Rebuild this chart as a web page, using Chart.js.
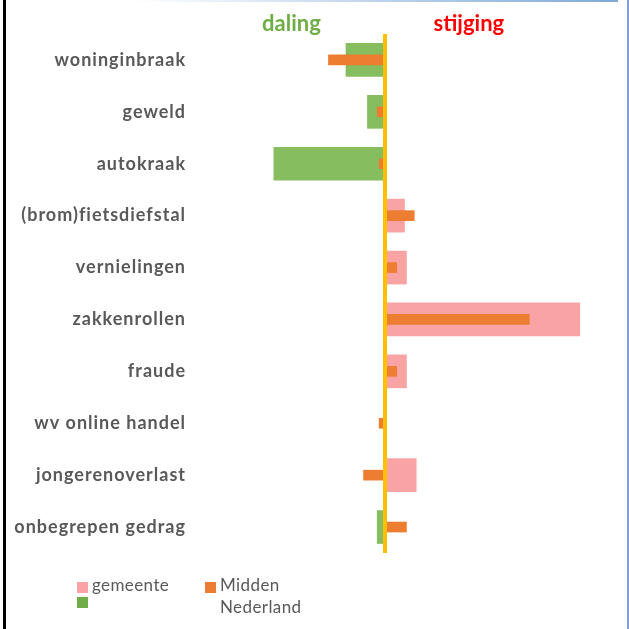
<!DOCTYPE html>
<html>
<head>
<meta charset="utf-8">
<script src="https://cdn.jsdelivr.net/npm/chart.js@4"></script>
<style>
  html, body { margin: 0; padding: 0; background: #fff; }
  #wrap { position: relative; width: 629px; height: 629px; overflow: hidden; }
  #frame-left { position: absolute; left: 3px; top: 0; width: 3px; height: 629px; background: #000; }
  #frame-right { position: absolute; left: 627px; top: 0; width: 2px; height: 629px; background: #7ea3cf; }
  #frame-top { position: absolute; left: 130px; top: 0; width: 488px; height: 2px;
               background: linear-gradient(to right, #ffffff, #7ea9d8); }
  canvas { position: absolute; left: 0; top: 0; }
  .legend { position: absolute; font-family: Lato, "Open Sans", sans-serif; font-size: 17px;
            letter-spacing: 0.4px; color: #595959; line-height: 22px; }
  .sw { position: absolute; width: 11px; height: 11px; }
</style>
</head>
<body>
<div id="wrap">
  <canvas id="chart" width="629" height="629"></canvas>
  <div id="frame-left"></div>
  <div id="frame-right"></div>
  <div id="frame-top"></div>
  <div id="legend"></div>
</div>
<script>
const categories = [
  "woninginbraak", "geweld", "autokraak", "(brom)fietsdiefstal", "vernielingen",
  "zakkenrollen", "fraude", "wv online handel", "jongerenoverlast", "onbegrepen gedrag"
];
// change in %, gemeente (positive = stijging, negative = daling)
const gemeente = [-20, -9, -57, 10, 11, 100, 11, 0, 16, -4];
const middenNederland = [-29, -4, -3, 15, 6, 74, 6, -3, -11, 11];

const headers = [
  { text: "daling", value: -48, color: "#70AD47" },
  { text: "stijging", value: 43, color: "#FF0000" }
];

const pink = "#F9A3A4";
const green = "#86BD5E";
const orange = "#ED7D31";

const gemeenteUp = gemeente.map(v => v > 0 ? v : null);
const gemeenteDown = gemeente.map(v => v < 0 ? v : null);

const zeroLine = {
  id: "zeroLine",
  afterDatasetsDraw(chart) {
    const { ctx, chartArea, scales } = chart;
    const x = scales.x.getPixelForValue(0);
    ctx.save();
    ctx.strokeStyle = "#FFC000";
    ctx.lineWidth = 4;
    ctx.beginPath();
    ctx.moveTo(x, chartArea.top);
    ctx.lineTo(x, chartArea.bottom);
    ctx.stroke();
    ctx.restore();
  }
};

// category labels, drawn with a bit of letter spacing like the original
const categoryLabels = {
  id: "categoryLabels",
  afterDraw(chart) {
    const { ctx, scales } = chart;
    const y = scales.y;
    ctx.save();
    ctx.font = "bold 18px Lato, 'Open Sans', sans-serif";
    ctx.letterSpacing = "1px";
    ctx.fillStyle = "#595959";
    ctx.textAlign = "right";
    ctx.textBaseline = "middle";
    y.ticks.forEach((t, i) => {
      ctx.fillText(y.getLabelForValue(t.value), y.right - 4, y.getPixelForTick(i));
    });
    ctx.restore();
  }
};

const headerText = {
  id: "headerText",
  afterDraw(chart) {
    const { ctx, scales } = chart;
    ctx.save();
    ctx.font = "bold 22px Lato, 'Open Sans', sans-serif";
    ctx.textAlign = "center";
    ctx.textBaseline = "middle";
    headers.forEach(h => {
      ctx.fillStyle = h.color;
      ctx.fillText(h.text, scales.x.getPixelForValue(h.value), 24);
    });
    ctx.restore();
  }
};

new Chart(document.getElementById("chart"), {
  type: "bar",
  data: {
    labels: categories,
    datasets: [
      { label: "Midden Nederland", data: middenNederland, backgroundColor: orange,
        barThickness: 10, grouped: false, order: 0 },
      { label: "gemeente", data: gemeenteUp, backgroundColor: pink,
        barThickness: 33, grouped: false, order: 1 },
      { label: "", data: gemeenteDown, backgroundColor: green,
        barThickness: 33, grouped: false, order: 1 }
    ]
  },
  options: {
    indexAxis: "y",
    responsive: false,
    animation: false,
    layout: { padding: { top: 34, right: 49, bottom: 76, left: 0 } },
    plugins: { legend: { display: false }, tooltip: { enabled: false } },
    scales: {
      x: { display: false, min: -100, max: 100 },
      y: {
        grid: { display: false, drawTicks: false },
        border: { display: false },
        ticks: { display: false },
        afterFit(scale) { scale.width = 190; }
      }
    }
  },
  plugins: [zeroLine, categoryLabels, headerText]
});

// legend in the original's layout
const legendItems = [
  { label: "gemeente", color: pink, x: 77, y: 582 },
  { label: "Midden<br>Nederland", color: orange, x: 205, y: 582 },
  { label: "", color: "#70AD47", x: 77, y: 597 }
];
const legendEl = document.getElementById("legend");
legendItems.forEach(it => {
  const sw = document.createElement("div");
  sw.className = "sw";
  sw.style.left = it.x + "px";
  sw.style.top = it.y + "px";
  sw.style.background = it.color;
  legendEl.appendChild(sw);
  if (it.label) {
    const t = document.createElement("div");
    t.className = "legend";
    t.style.left = (it.x + 15) + "px";
    t.style.top = (it.y - 8) + "px";
    t.innerHTML = it.label;
    legendEl.appendChild(t);
  }
});
</script>
</body>
</html>
